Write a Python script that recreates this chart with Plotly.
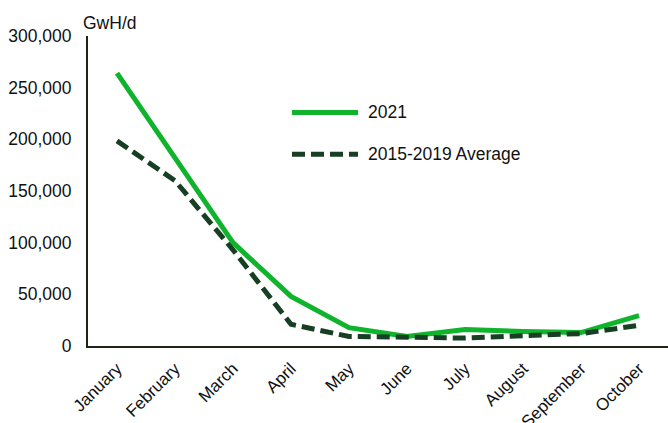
import plotly.graph_objects as go

# Monthly values, GwH/d
months = ["January", "February", "March", "April", "May", "June",
          "July", "August", "September", "October"]
y2021 = [264000, 182000, 100000, 48000, 17800, 9200, 15900, 14000, 13000, 29400]
avg_2015_2019 = [198500, 160000, 93000, 21000, 9200, 8200, 7700, 10000, 12000, 20000]
y_ticks = [0, 50000, 100000, 150000, 200000, 250000, 300000]

GREEN = "#10b42c"
DARK = "#173f23"
AXIS = "#1e2415"
FONT = "Liberation Sans, Arial, sans-serif"
FS = 17.5

fig = go.Figure()
fig.add_trace(go.Scatter(x=months, y=y2021, mode="lines", name="2021",
                         line=dict(color=GREEN, width=5), showlegend=False))
fig.add_trace(go.Scatter(x=months, y=avg_2015_2019, mode="lines", name="2015-2019 Average",
                         line=dict(color=DARK, width=5, dash="13px,6px"), showlegend=False))

# Legend drawn inside the plot area
W, H = 580, 310.5
def px(x):
    return (x - 88) / W
def py(y):
    return (346.5 - y) / H

legend_items = [("2021", GREEN, "solid", 112.5), ("2015-2019 Average", DARK, "13px,6px", 154.5)]
shapes = []
annotations = []
for label, color, dash, yy in legend_items:
    shapes.append(dict(type="line", xref="paper", yref="paper",
                       x0=px(292), x1=px(358), y0=py(yy), y1=py(yy),
                       line=dict(color=color, width=5, dash=dash)))
    annotations.append(dict(text=label, xref="paper", yref="paper", x=px(366), y=py(yy),
                            xanchor="left", yanchor="middle", showarrow=False,
                            font=dict(family=FONT, size=FS, color="#111111")))

annotations.append(dict(text="GwH/d", xref="paper", yref="paper", x=0, y=1,
                        xanchor="left", yanchor="middle", xshift=-7, yshift=13.5,
                        showarrow=False, font=dict(family=FONT, size=FS, color="#111111")))

fig.update_layout(
    width=668, height=423,
    margin=dict(l=88, r=0, t=36, b=76.5),
    plot_bgcolor="white", paper_bgcolor="white",
    font=dict(family=FONT, size=FS, color="#111111"),
    shapes=shapes, annotations=annotations,
    xaxis=dict(range=[-0.5, 9.5], showgrid=False, zeroline=False, automargin=False,
               showline=True, linecolor=AXIS, linewidth=2,
               ticks="", tickangle=-45, tickfont=dict(size=17),
               ticklabelstandoff=4),
    yaxis=dict(range=[0, 300000], tickvals=y_ticks, tickformat=",", automargin=False,
               showgrid=False, zeroline=False,
               showline=True, linecolor=AXIS, linewidth=2,
               ticks="", tickfont=dict(size=FS), ticklabelstandoff=11),
)

fig.write_html("out.html")
